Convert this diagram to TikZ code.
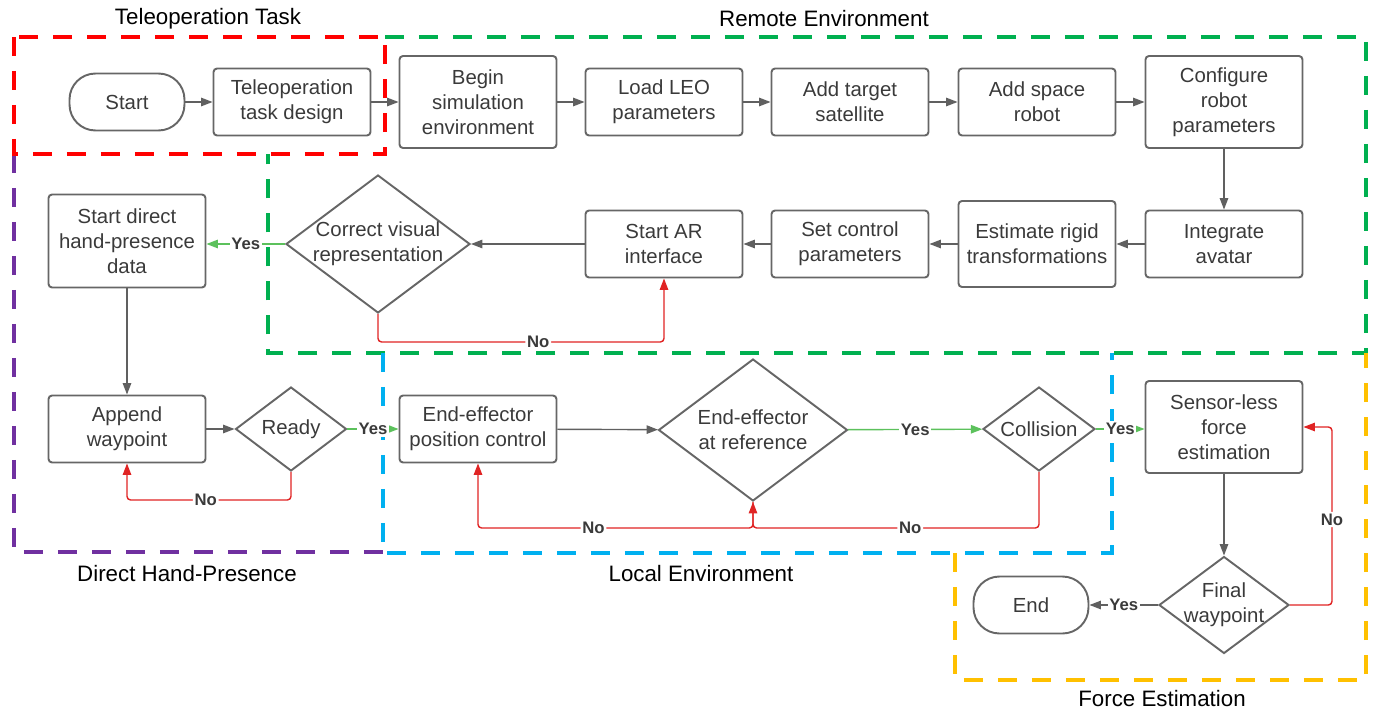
\documentclass[tikz,border=0pt]{standalone}
\usepackage{fontspec}
\setmainfont{Liberation Sans}
\usetikzlibrary{arrows.meta, shapes.geometric}

\definecolor{boxgray}{HTML}{666666}
\definecolor{txtgray}{HTML}{3A3A3A}
\definecolor{flowgray}{HTML}{606060}
\definecolor{yesgreen}{HTML}{5CC15C}
\definecolor{nored}{HTML}{E02424}
\definecolor{zonered}{HTML}{FF0000}
\definecolor{zonegreen}{HTML}{00B050}
\definecolor{zonepurple}{HTML}{7030A0}
\definecolor{zoneblue}{HTML}{00B0F0}
\definecolor{zoneorange}{HTML}{FFC000}

\begin{document}
\begin{tikzpicture}[
    x=0.02cm, y=-0.02cm,
    > = {Triangle[length=6.5pt, width=4.8pt]},
    font=\fontsize{11.6}{14.2}\selectfont,
    box/.style={draw=boxgray, line width=1.1pt, rounded corners=2pt, text=txtgray,
        align=center, inner sep=0pt, minimum width=3.14cm, minimum height=1.34cm},
    tallbox/.style={box, minimum height=1.84cm},
    terminal/.style={draw=boxgray, line width=1.1pt, rounded corners=0.52cm, text=txtgray,
        minimum width=2.3cm, minimum height=1.14cm},
    decision/.style={diamond, aspect=1.33, draw=boxgray, line width=1.1pt, text=txtgray,
        align=center, inner sep=-2pt},
    flow/.style={->, draw=flowgray, line width=0.8pt},
    yesflow/.style={->, draw=yesgreen, line width=0.8pt},
    noflow/.style={->, draw=nored, line width=0.8pt, rounded corners=2pt},
    lbl/.style={font=\fontsize{9.5}{11}\selectfont\bfseries, text=txtgray, fill=white, inner sep=1pt},
    zone/.style={line width=2.3pt, dash pattern=on 0.38cm off 0.3cm},
    zonetitle/.style={font=\fontsize{12.7}{15}\selectfont, text=black}
]
    \useasboundingbox (0,0) rectangle (1374,710);

    % Dashed regions
    \draw[zone, zonegreen] (385,37) -- (1366,37) -- (1366,353) -- (268,353) -- (268,154);
    \draw[zone, zoneorange] (955,553) -- (955,680) -- (1366,680) -- (1366,353);
    \draw[zone, zonepurple] (14,154) -- (14,552) -- (383,552);
    \draw[zone, zoneblue] (383,353) -- (383,553) -- (1112,553) -- (1112,353);
    \draw[zone, zonered] (14,37) rectangle (385,154);

    % Region titles
    \node[zonetitle] (ttask) at (208,19) {Teleoperation Task};
    \node[zonetitle] (tremote) at (824,19) {Remote Environment};
    \node[zonetitle] (thand) at (187,574) {Direct Hand-Presence};
    \node[zonetitle] (tlocal) at (701,574) {Local Environment};
    \node[zonetitle] (tforce) at (1162,699) {Force Estimation};

    % First row
    \node[terminal] (start) at (127,102) {Start};
    \node[box] (design) at (292,102) {Teleoperation\\task design};
    \node[tallbox] (simenv) at (478,102) {Begin\\simulation\\environment};
    \node[box] (leo) at (664,102) {Load LEO\\parameters};
    \node[box] (target) at (850,102) {Add target\\satellite};
    \node[box] (robot) at (1037,102) {Add space\\robot};
    \node[tallbox] (config) at (1224,102) {Configure\\robot\\parameters};

    % Second row
    \node[box] (avatar) at (1224,244) {Integrate\\avatar};
    \node[box, minimum height=1.72cm] (rigid) at (1037,244) {Estimate rigid\\transformations};
    \node[box] (control) at (850,244) {Set control\\parameters};
    \node[box] (arif) at (664,244) {Start AR\\interface};
    \node[decision, minimum width=3.68cm, minimum height=2.76cm] (visual) at (378,244) {Correct visual\\representation};
    \node[tallbox, minimum height=1.86cm] (handdata) at (127,241) {Start direct\\hand-presence\\data};

    % Third row
    \node[box] (waypoint) at (127,429) {Append\\waypoint};
    \node[decision, minimum width=2.22cm, minimum height=1.68cm] (ready) at (291,429) {Ready};
    \node[box] (posctrl) at (478,429) {End-effector\\position control};
    \node[decision, minimum width=3.78cm, minimum height=2.84cm] (atref) at (753,430) {End-effector\\at reference};
    \node[decision, minimum width=2.24cm, minimum height=1.68cm] (collision) at (1039,429) {Collision};
    \node[tallbox] (sensorless) at (1224,427) {Sensor-less\\force\\estimation};
    \node[decision, minimum width=2.6cm, minimum height=1.94cm] (final) at (1224,605) {Final\\waypoint};
    \node[terminal] (finish) at (1031,605) {End};

    % Main flow
    \draw[flow] (start) -- (design);
    \draw[flow] (design) -- (simenv);
    \draw[flow] (simenv) -- (leo);
    \draw[flow] (leo) -- (target);
    \draw[flow] (target) -- (robot);
    \draw[flow] (robot) -- (config);
    \draw[flow] (config) -- (avatar);
    \draw[flow] (avatar) -- (rigid);
    \draw[flow] (rigid) -- (control);
    \draw[flow] (control) -- (arif);
    \draw[flow] (arif) -- (visual);
    \draw[flow] (handdata) -- (waypoint);
    \draw[flow] (waypoint) -- (ready);
    \draw[flow] (posctrl) -- (atref);
    \draw[flow] (sensorless) -- (final);

    % Decisions: yes branches
    \draw[yesflow] (visual.west) -- (visual.west -| handdata.east) node[lbl, pos=.5] {Yes};
    \draw[yesflow] (ready) -- (posctrl) node[lbl, pos=.5] {Yes};
    \draw[yesflow] (atref) -- (collision) node[lbl, pos=.5] {Yes};
    \draw[yesflow] (collision.east) -- (collision.east -| sensorless.west) node[lbl, pos=.5] {Yes};
    \draw[flow] (final) -- (finish) node[lbl, pos=.5] {Yes};

    % Decisions: no branches
    \draw[noflow] (visual.south) -- ++(0,28) -| node[lbl, pos=.28] {No} (arif.south);
    \draw[noflow] (ready.south) -- ++(0,28) -| node[lbl, pos=.26] {No} (waypoint.south);
    \draw[noflow] (atref.south) -- ++(0,26) -| node[lbl, pos=.29] {No} (posctrl.south);
    \draw[noflow] (collision.south) -- ++(0,56) -| node[lbl, pos=.225] {No} (atref.south);
    \draw[noflow] (final.east) -- ++(42,0) |- node[lbl, pos=.24] {No} (sensorless.east);
\end{tikzpicture}
\end{document}
